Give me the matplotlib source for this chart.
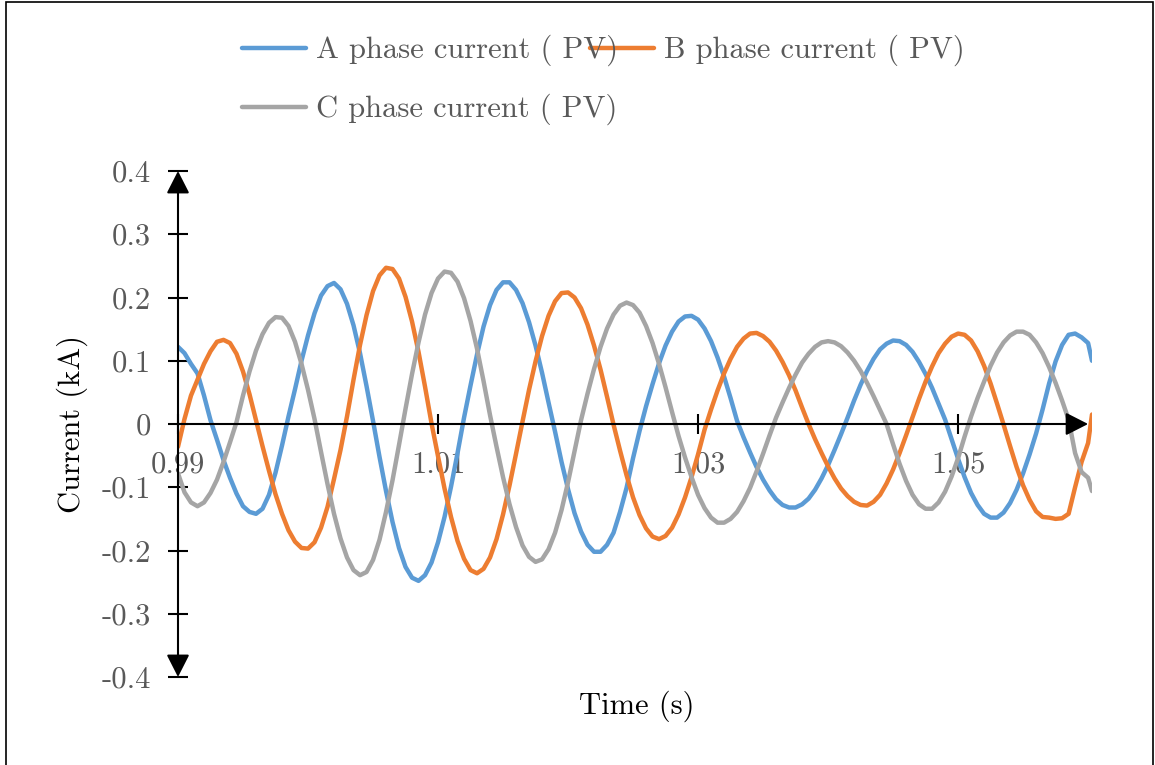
import matplotlib.pyplot as plt
from matplotlib.lines import Line2D
from matplotlib.patches import Rectangle

plt.rcParams['font.family'] = ['cmr10', 'DejaVu Serif']
plt.rcParams['axes.unicode_minus'] = False

# simulation samples, 0.5 ms apart
time_s = [
    0.9900, 0.9905, 0.9910, 0.9915, 0.9920, 0.9925, 0.9930, 0.9935, 0.9940, 0.9945,
    0.9950, 0.9955, 0.9960, 0.9965, 0.9970, 0.9975, 0.9980, 0.9985, 0.9990, 0.9995,
    1.0000, 1.0005, 1.0010, 1.0015, 1.0020, 1.0025, 1.0030, 1.0035, 1.0040, 1.0045,
    1.0050, 1.0055, 1.0060, 1.0065, 1.0070, 1.0075, 1.0080, 1.0085, 1.0090, 1.0095,
    1.0100, 1.0105, 1.0110, 1.0115, 1.0120, 1.0125, 1.0130, 1.0135, 1.0140, 1.0145,
    1.0150, 1.0155, 1.0160, 1.0165, 1.0170, 1.0175, 1.0180, 1.0185, 1.0190, 1.0195,
    1.0200, 1.0205, 1.0210, 1.0215, 1.0220, 1.0225, 1.0230, 1.0235, 1.0240, 1.0245,
    1.0250, 1.0255, 1.0260, 1.0265, 1.0270, 1.0275, 1.0280, 1.0285, 1.0290, 1.0295,
    1.0300, 1.0305, 1.0310, 1.0315, 1.0320, 1.0325, 1.0330, 1.0335, 1.0340, 1.0345,
    1.0350, 1.0355, 1.0360, 1.0365, 1.0370, 1.0375, 1.0380, 1.0385, 1.0390, 1.0395,
    1.0400, 1.0405, 1.0410, 1.0415, 1.0420, 1.0425, 1.0430, 1.0435, 1.0440, 1.0445,
    1.0450, 1.0455, 1.0460, 1.0465, 1.0470, 1.0475, 1.0480, 1.0485, 1.0490, 1.0495,
    1.0500, 1.0505, 1.0510, 1.0515, 1.0520, 1.0525, 1.0530, 1.0535, 1.0540, 1.0545,
    1.0550, 1.0555, 1.0560, 1.0565, 1.0570, 1.0575, 1.0580, 1.0585, 1.0590, 1.0595,
    1.0600, 1.0603,
]

ia = [
    0.122, 0.112, 0.095, 0.080, 0.045, 0.006, -0.025, -0.057, -0.085, -0.110,
    -0.130, -0.139, -0.142, -0.134, -0.112, -0.077, -0.034, 0.012, 0.055, 0.100,
    0.140, 0.175, 0.203, 0.218, 0.223, 0.213, 0.190, 0.156, 0.112, 0.060,
    0.005, -0.052, -0.106, -0.155, -0.196, -0.226, -0.243, -0.248, -0.239, -0.219,
    -0.187, -0.147, -0.099, -0.046, 0.010, 0.061, 0.110, 0.154, 0.188, 0.212,
    0.224, 0.224, 0.212, 0.191, 0.161, 0.124, 0.081, 0.034, -0.012, -0.060,
    -0.103, -0.141, -0.170, -0.191, -0.202, -0.202, -0.191, -0.172, -0.139, -0.101,
    -0.054, -0.011, 0.028, 0.063, 0.096, 0.124, 0.146, 0.162, 0.170, 0.171,
    0.165, 0.151, 0.131, 0.105, 0.075, 0.041, 0.005, -0.021, -0.045, -0.068,
    -0.088, -0.105, -0.119, -0.128, -0.132, -0.132, -0.127, -0.118, -0.104, -0.086,
    -0.065, -0.041, -0.016, 0.010, 0.037, 0.062, 0.084, 0.103, 0.118, 0.127,
    0.132, 0.131, 0.125, 0.114, 0.098, 0.079, 0.057, 0.032, 0.007, -0.024,
    -0.055, -0.084, -0.109, -0.128, -0.142, -0.148, -0.148, -0.140, -0.125, -0.104,
    -0.078, -0.048, -0.015, 0.023, 0.064, 0.099, 0.125, 0.141, 0.143, 0.137,
    0.128, 0.100,
]

ib = [
    -0.036, 0.008, 0.045, 0.070, 0.095, 0.115, 0.130, 0.133, 0.128, 0.111,
    0.083, 0.047, 0.006, -0.035, -0.074, -0.111, -0.142, -0.168, -0.186, -0.196,
    -0.197, -0.187, -0.164, -0.131, -0.087, -0.041, 0.012, 0.070, 0.125, 0.172,
    0.210, 0.235, 0.247, 0.245, 0.230, 0.201, 0.162, 0.114, 0.059, 0.001,
    -0.051, -0.102, -0.147, -0.185, -0.213, -0.231, -0.236, -0.229, -0.211, -0.182,
    -0.143, -0.097, -0.047, 0.004, 0.054, 0.099, 0.139, 0.171, 0.194, 0.207,
    0.208, 0.200, 0.183, 0.157, 0.124, 0.086, 0.043, -0.001, -0.042, -0.081,
    -0.116, -0.144, -0.165, -0.178, -0.182, -0.177, -0.164, -0.143, -0.116, -0.084,
    -0.048, -0.009, 0.023, 0.053, 0.080, 0.103, 0.122, 0.135, 0.143, 0.144,
    0.139, 0.130, 0.116, 0.098, 0.077, 0.053, 0.026, 0.000, -0.024, -0.046,
    -0.067, -0.086, -0.102, -0.114, -0.123, -0.128, -0.129, -0.123, -0.112, -0.094,
    -0.072, -0.046, -0.018, 0.011, 0.040, 0.067, 0.091, 0.112, 0.127, 0.138,
    0.143, 0.141, 0.132, 0.115, 0.092, 0.064, 0.032, -0.001, -0.035, -0.068,
    -0.097, -0.120, -0.138, -0.147, -0.148, -0.150, -0.149, -0.142, -0.100, -0.060,
    -0.030, 0.015,
]

ic = [
    -0.078, -0.108, -0.124, -0.130, -0.124, -0.109, -0.088, -0.060, -0.029, 0.003,
    0.045, 0.083, 0.116, 0.142, 0.160, 0.169, 0.168, 0.155, 0.130, 0.095,
    0.054, 0.008, -0.044, -0.095, -0.142, -0.181, -0.211, -0.231, -0.239, -0.234,
    -0.215, -0.183, -0.139, -0.089, -0.033, 0.024, 0.079, 0.129, 0.173, 0.207,
    0.230, 0.241, 0.239, 0.225, 0.199, 0.163, 0.119, 0.068, 0.014, -0.036,
    -0.084, -0.127, -0.163, -0.192, -0.210, -0.218, -0.214, -0.198, -0.172, -0.136,
    -0.092, -0.043, 0.006, 0.048, 0.087, 0.122, 0.151, 0.173, 0.187, 0.192,
    0.188, 0.176, 0.155, 0.128, 0.095, 0.058, 0.019, -0.019, -0.053, -0.084,
    -0.112, -0.133, -0.148, -0.156, -0.156, -0.150, -0.139, -0.122, -0.101, -0.075,
    -0.047, -0.018, 0.010, 0.034, 0.057, 0.078, 0.097, 0.111, 0.122, 0.129,
    0.131, 0.129, 0.123, 0.113, 0.100, 0.084, 0.065, 0.044, 0.022, 0.000,
    -0.032, -0.063, -0.090, -0.112, -0.127, -0.134, -0.134, -0.124, -0.107, -0.083,
    -0.054, -0.020, 0.012, 0.041, 0.067, 0.092, 0.113, 0.129, 0.140, 0.146,
    0.146, 0.141, 0.129, 0.112, 0.090, 0.065, 0.037, 0.007, -0.046, -0.076,
    -0.085, -0.106,
]

series_names = ["A phase current ( PV)", "B phase current ( PV)", "C phase current ( PV)"]
series_colors = ["#5B9BD5", "#ED7D31", "#A5A5A5"]

x_ticks = [0.99, 1.01, 1.03, 1.05]
x_tick_labels = ["0.99", "1.01", "1.03", "1.05"]
y_ticks = [0.4, 0.3, 0.2, 0.1, 0.0, -0.1, -0.2, -0.3, -0.4]
y_tick_labels = ["0.4", "0.3", "0.2", "0.1", "0", "-0.1", "-0.2", "-0.3", "-0.4"]

txt_grey = "#595959"
fs = 22

fig = plt.figure(figsize=(11.55, 7.65), dpi=100)
ax = fig.add_axes([178 / 1155, 88 / 765, 914 / 1155, 506 / 765])
ax.set_xlim(0.99, 1.0603)
ax.set_ylim(-0.4, 0.4)

for y, c in zip([ia, ib, ic], series_colors):
    ax.plot(time_s, y, color=c, lw=3.2, solid_capstyle="round",
            solid_joinstyle="round", zorder=3)

# axes cross at t=0.99 / I=0, Excel style
ax.spines["left"].set_position(("data", 0.99))
ax.spines["bottom"].set_position(("data", 0.0))
for s in ax.spines.values():
    s.set_visible(False)

ax.set_xticks(x_ticks, x_tick_labels)
ax.set_yticks(y_ticks, y_tick_labels)
ax.tick_params(axis="both", direction="inout", length=15, width=1.5,
               color="black", labelsize=fs, labelcolor=txt_grey)
ax.tick_params(axis="x", pad=12)
ax.tick_params(axis="y", pad=12)

ax.annotate("", xy=(0.99, 0.4), xytext=(0.99, -0.4),
            arrowprops=dict(arrowstyle="<|-|>,head_length=0.55,head_width=0.28",
                            mutation_scale=25, color="black", lw=1.5,
                            shrinkA=0, shrinkB=0), zorder=4)
ax.annotate("", xy=(1.0600, 0.0), xytext=(0.99, 0.0),
            arrowprops=dict(arrowstyle="-|>,head_length=0.55,head_width=0.28",
                            mutation_scale=25, color="black", lw=1.5,
                            shrinkA=0, shrinkB=0), zorder=4)

fig.text(72 / 1155, 1 - 424 / 765, "Current (kA)", rotation=90, fontsize=fs,
         ha="center", va="center", color="black")
fig.text(637 / 1155, 1 - 706 / 765, "Time (s)", fontsize=fs,
         ha="center", va="center", color="black")

# legend drawn by hand: two entries on first row, one on second
legend_pos = [(242, 48), (590, 48), (242, 107)]
for (lx, ly), name in zip(legend_pos, series_names):
    fig.text((lx + 74) / 1155, 1 - (ly + 2) / 765, name, fontsize=fs,
             ha="left", va="center", color=txt_grey)
for (lx, ly), c in zip(legend_pos, series_colors):
    fig.add_artist(Line2D([lx / 1155, (lx + 64) / 1155], [1 - ly / 765, 1 - ly / 765],
                          color=c, lw=3.2, solid_capstyle="round"))

fig.add_artist(Rectangle((6 / 1155, -0.01), 1147 / 1155, 1.01 - 1.5 / 765, fill=False,
                         edgecolor="black", lw=1.2, transform=fig.transFigure))

fig.savefig("out.png", dpi=100)
